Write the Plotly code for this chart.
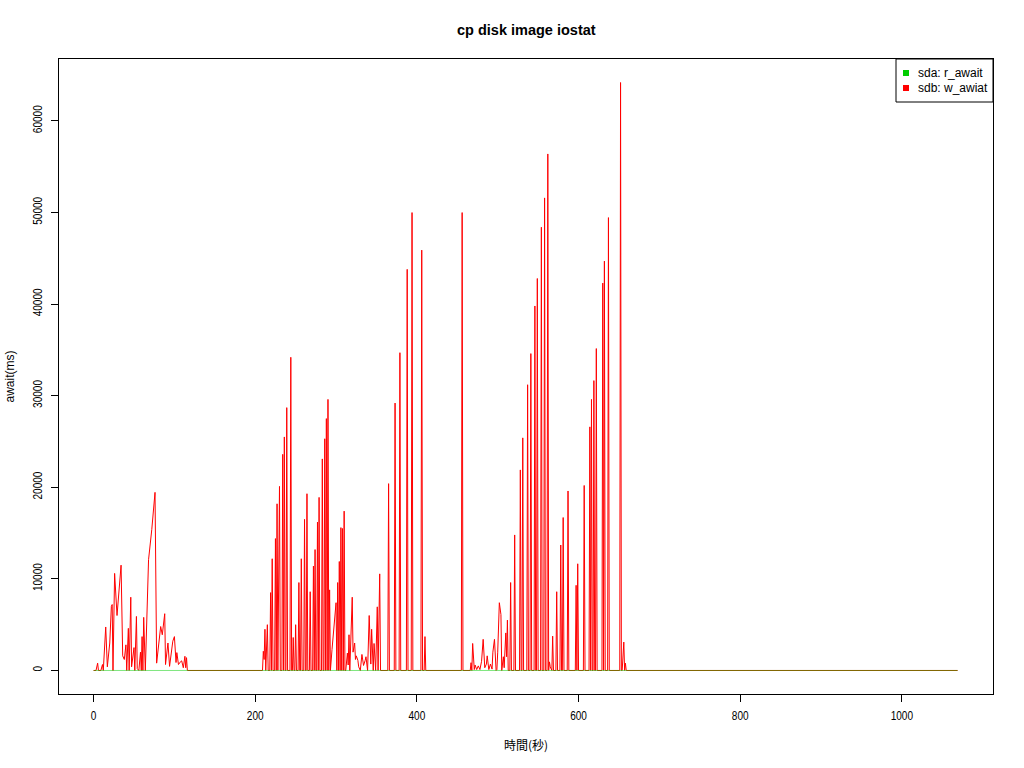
import plotly.graph_objects as go

# ---- data ----
# sdb: w_awiat  (time in seconds, await in ms)
sdb_time = [
    0, 3, 5, 6, 9, 11, 12, 15, 17, 20, 22, 23, 24, 26, 29, 34, 36, 38, 40, 41,
    43, 44, 46, 47, 50, 51, 53, 54, 56, 58, 59, 60, 61, 62, 64, 66, 68, 72, 76, 78,
    81, 83, 85, 88, 89, 92, 94, 96, 98, 100, 102, 103, 105, 108, 109, 111, 113, 114, 115, 116,
    209, 210, 211, 212, 213, 215, 216, 218, 219, 220, 221, 222, 224, 225, 226, 227, 228, 230, 231, 233,
    234, 235, 236, 237, 238, 239, 240, 243, 244, 245, 246, 247, 248, 249, 250, 251, 253, 254, 255, 256,
    257, 258, 260, 261, 262, 263, 264, 265, 267, 268, 269, 271, 272, 273, 274, 275, 276, 277, 278, 279,
    280, 282, 283, 284, 285, 286, 287, 288, 289, 290, 291, 292, 293, 295, 297, 300, 301, 302, 303, 304,
    305, 306, 307, 308, 309, 310, 311, 312, 314, 315, 316, 317, 320, 321, 323, 324, 325, 327, 328, 330,
    332, 334, 336, 337, 339, 341, 343, 344, 346, 347, 349, 351, 352, 354, 355, 364, 365, 366, 372, 373,
    374, 378, 379, 380, 387, 388, 389, 393, 394, 395, 405, 406, 407, 409, 410, 411,
    455, 456, 457, 466, 467, 468, 469, 471, 472, 474, 476, 478, 480, 482, 484, 486, 487, 489, 491, 493,
    494, 496, 498, 499, 500, 502, 504, 505, 507, 508, 510, 511, 512, 513, 515, 516, 517, 520, 521, 522,
    527, 528, 529, 530, 531, 532, 536, 537, 538, 540, 541, 542, 545, 546, 547, 548, 549, 550, 553, 554,
    555, 557, 558, 559, 561, 562, 563, 564, 565, 567, 568, 569, 572, 573, 574, 577, 578, 579, 580, 581,
    582, 586, 587, 588, 596, 597, 598, 599, 600, 606, 607, 608, 613, 614, 615, 616, 617, 618, 619, 620,
    621, 622, 623, 629, 630, 631, 632, 633, 636, 637, 638, 651, 652, 653, 654, 656, 657, 658, 659, 1069,
]
sdb_await = [
    0, 0, 800, 0, 0, 650, 0, 4750, 400, 3000, 7000, 7200, 0, 10600, 6000, 11500, 1600, 1200, 2800, 0,
    4600, 0, 8000, 400, 2500, 0, 5900, 200, 0, 2000, 0, 3700, 0, 5800, 0, 7000, 12100, 15400, 19450, 800,
    3400, 4800, 3900, 6200, 650, 3000, 450, 2100, 3200, 3700, 870, 1950, 650, 1000, 1050, 300, 1550, 300, 1400, 0,
    0, 2100, 1200, 4500, 0, 5000, 0, 0, 8500, 0, 12200, 0, 0, 14400, 0, 18200, 0, 20100, 0, 0,
    23600, 0, 25500, 0, 0, 28700, 0, 0, 34200, 0, 0, 3600, 0, 0, 5000, 0, 0, 9600, 0, 0,
    12200, 0, 0, 16500, 0, 0, 19300, 0, 0, 8600, 0, 0, 11400, 0, 13200, 0, 0, 16200, 0, 18900,
    0, 0, 23100, 0, 0, 25300, 0, 27500, 0, 29600, 0, 8800, 0, 2300, 4800, 7400, 0, 9600, 0, 11900,
    0, 15600, 0, 15500, 0, 17400, 0, 0, 1900, 600, 3900, 0, 8000, 2000, 3000, 1200, 1600, 1100, 400, 0,
    1750, 550, 1100, 1500, 0, 6000, 700, 4500, 0, 2950, 0, 6950, 0, 10550, 0, 0, 20400, 0, 0, 29200,
    0, 0, 34700, 0, 0, 43800, 0, 0, 50000, 0, 0, 45900, 0, 0, 3700, 0,
    0, 50000, 0, 0, 850, 0, 2950, 100, 600, 100, 500, 100, 1000, 3400, 300, 700, 1600, 100, 700, 150,
    2000, 3400, 0, 100, 2000, 7400, 6100, 0, 1500, 300, 4100, 1500, 5500, 0, 0, 9600, 0, 0, 14800, 0,
    0, 21900, 0, 0, 25400, 0, 0, 31200, 0, 0, 34600, 0, 0, 39800, 0, 0, 42800, 0, 0, 48400,
    0, 0, 51600, 0, 0, 56400, 0, 940, 400, 0, 3750, 0, 0, 8600, 0, 0, 13700, 0, 0, 16700,
    0, 0, 19600, 0, 0, 9300, 0, 11650, 0, 0, 20200, 0, 0, 26600, 0, 29600, 0, 0, 31650, 0,
    0, 35150, 0, 0, 42300, 0, 44700, 0, 0, 49450, 0, 0, 64200, 0, 0, 3100, 0, 800, 0, 0,
]

# sda: r_await
sda_time = [0, 1069]
sda_await = [0, 0]

x_ticks = [0, 200, 400, 600, 800, 1000]
y_ticks = [0, 10000, 20000, 30000, 40000, 50000, 60000]

title_text = "cp disk image iostat"
x_label = "時間(秒)"
y_label = "await(ms)"
legend_labels = ["sda: r_await", "sdb: w_awiat"]
legend_colors = ["#00CD00", "#FF0000"]

# ---- figure ----
fig = go.Figure()
fig.add_trace(go.Scatter(x=sdb_time, y=sdb_await, mode="lines",
                         line=dict(color=legend_colors[1], width=1),
                         name=legend_labels[1], showlegend=False, hoverinfo="x+y"))
fig.add_trace(go.Scatter(x=sda_time, y=sda_await, mode="lines",
                         line=dict(color=legend_colors[0], width=1), opacity=0.5,
                         name=legend_labels[0], showlegend=False, hoverinfo="x+y"))

W, H = 1024, 768
PL, PR, PT, PB = 59, 993, 59, 694          # plot area in page pixels
pw, ph = PR - PL, PB - PT

def px(xp):
    return (xp - PL) / pw

def py(yp):
    return (PB - yp) / ph

sans = "Liberation Sans, Arial, Helvetica, sans-serif"

axis_common = dict(showline=True, mirror=True, linecolor="black", linewidth=1,
                   ticks="outside", ticklen=7, tickcolor="black", tickwidth=1,
                   showgrid=False, zeroline=False, ticklabelstandoff=4,
                   tickfont=dict(family=sans, size=12, color="black"))

fig.update_layout(
    width=W, height=H, autosize=False,
    margin=dict(l=PL, r=W - PR, t=PT, b=H - PB, pad=0),
    paper_bgcolor="white", plot_bgcolor="white",
    showlegend=False,
    xaxis=dict(range=[-42.8, 1112.8], tickmode="array", tickvals=x_ticks,
               ticktext=[str(v) for v in x_ticks], **axis_common),
    yaxis=dict(range=[-2568, 66768], tickmode="array", tickvals=y_ticks,
               ticktext=[str(v) for v in y_ticks], tickangle=-90, **axis_common),
)

annotations = [
    dict(text="<b>" + title_text + "</b>", x=0.5, y=py(30), xref="paper", yref="paper",
         xanchor="center", yanchor="middle", showarrow=False,
         font=dict(family=sans, size=14.5, color="black")),
    dict(text=x_label, x=0.5, y=py(744), xref="paper", yref="paper",
         xanchor="center", yanchor="middle", showarrow=False,
         font=dict(family="Noto Sans CJK JP, sans-serif", size=12, color="black")),
    dict(text=y_label, x=px(9), y=0.5, xref="paper", yref="paper",
         xanchor="center", yanchor="middle", showarrow=False, textangle=-90,
         font=dict(family=sans, size=12, color="black")),
]
shapes = [
    dict(type="rect", xref="paper", yref="paper", x0=px(896), x1=px(993), y0=py(102), y1=py(59),
         line=dict(color="black", width=1), fillcolor="white", layer="above"),
]
for i, (lab, col) in enumerate(zip(legend_labels, legend_colors)):
    cy = 73 + 15 * i
    shapes.append(dict(type="rect", xref="paper", yref="paper",
                       x0=px(903), x1=px(909), y0=py(cy + 3), y1=py(cy - 3),
                       line=dict(width=0), fillcolor=col, layer="above"))
    annotations.append(dict(text=lab, x=px(916), y=py(cy), xref="paper", yref="paper",
                            xanchor="left", yanchor="middle", showarrow=False,
                            font=dict(family=sans, size=12, color="black")))

fig.update_layout(annotations=annotations, shapes=shapes)

# remove the page's default body margin so the 1024x768 figure fills the window,
# and narrow the tick labels like the reference's condensed font
post = """
document.body.style.margin = '0';
document.body.style.padding = '0';
try {
  document.querySelectorAll('.xtick text, .ytick text').forEach(function (t) {
    var w = t.getComputedTextLength();
    t.setAttribute('textLength', (w * 0.84).toFixed(1));
    t.setAttribute('lengthAdjust', 'spacingAndGlyphs');
  });
} catch (e) {}
"""
fig.write_html("out.html", post_script=post, config={"displayModeBar": False})
